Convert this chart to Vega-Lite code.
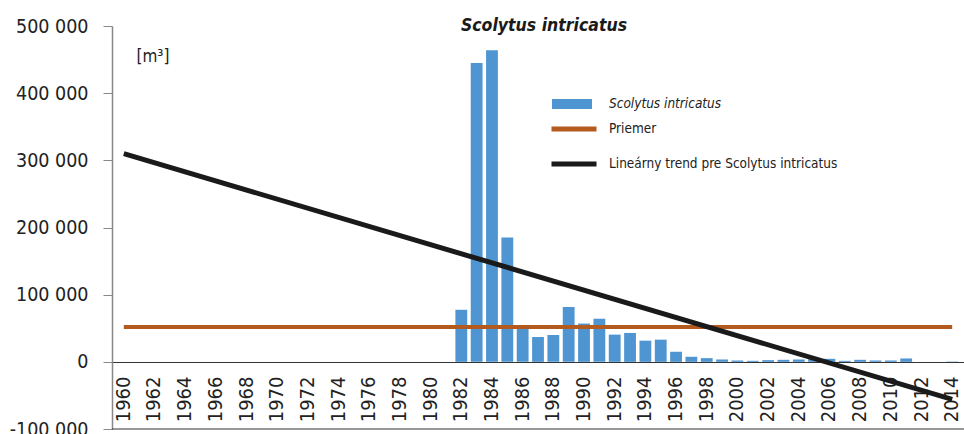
{
  "$schema": "https://vega.github.io/schema/vega-lite/v6.json",
  "width": 852,
  "height": 403,
  "autosize": {"type": "none"},
  "padding": {"left": 112, "top": 26, "right": 0, "bottom": 5},
  "background": "white",
  "config": {
    "view": {"stroke": null},
    "font": "DejaVu Sans Condensed, Liberation Sans, sans-serif",
    "locale": {"number": {"decimal": ",", "thousands": " ", "grouping": [3], "currency": ["", ""], "minus": "-"}}
  },
  "title": {
    "text": "Scolytus intricatus",
    "fontStyle": "italic",
    "fontWeight": "bold",
    "fontSize": 17.5,
    "anchor": "middle",
    "frame": "group",
    "offset": -18,
    "dx": 6,
    "color": "#1a1a1a"
  },
  "datasets": {
    "bars": [
      {"year": 1982, "value": 77500},
      {"year": 1983, "value": 445000},
      {"year": 1984, "value": 464000},
      {"year": 1985, "value": 185000},
      {"year": 1986, "value": 49000},
      {"year": 1987, "value": 37000},
      {"year": 1988, "value": 40000},
      {"year": 1989, "value": 81500},
      {"year": 1990, "value": 57000},
      {"year": 1991, "value": 64000},
      {"year": 1992, "value": 40500},
      {"year": 1993, "value": 43000},
      {"year": 1994, "value": 31500},
      {"year": 1995, "value": 33000},
      {"year": 1996, "value": 15000},
      {"year": 1997, "value": 7500},
      {"year": 1998, "value": 5500},
      {"year": 1999, "value": 3500},
      {"year": 2000, "value": 2000},
      {"year": 2001, "value": 1500},
      {"year": 2002, "value": 2500},
      {"year": 2003, "value": 3000},
      {"year": 2004, "value": 3500},
      {"year": 2005, "value": 4000},
      {"year": 2006, "value": 4500},
      {"year": 2007, "value": 1500},
      {"year": 2008, "value": 3000},
      {"year": 2009, "value": 2000},
      {"year": 2010, "value": 2000},
      {"year": 2011, "value": 5000},
      {"year": 2012, "value": 0},
      {"year": 2013, "value": 0},
      {"year": 2014, "value": 500}
    ],
    "average": [
      {"year": 1960, "value": 52000},
      {"year": 2014, "value": 52000}
    ],
    "trend": [
      {"year": 1960, "value": 310000},
      {"year": 2014, "value": -56000}
    ],
    "bottom": [
      {"value": -100000}
    ]
  },
  "encoding": {
    "x": {
      "field": "year",
      "type": "ordinal",
      "scale": {
        "domain": [1960,1961,1962,1963,1964,1965,1966,1967,1968,1969,1970,1971,1972,1973,1974,1975,1976,1977,1978,1979,1980,1981,1982,1983,1984,1985,1986,1987,1988,1989,1990,1991,1992,1993,1994,1995,1996,1997,1998,1999,2000,2001,2002,2003,2004,2005,2006,2007,2008,2009,2010,2011,2012,2013,2014],
        "paddingInner": 0.23,
        "paddingOuter": 0.385
      },
      "axis": {
        "title": null,
        "values": [1960,1962,1964,1966,1968,1970,1972,1974,1976,1978,1980,1982,1984,1986,1988,1990,1992,1994,1996,1998,2000,2002,2004,2006,2008,2010,2012,2014],
        "labelAngle": 270,
        "ticks": false,
        "domainColor": "#333333",
        "domainWidth": 1.2,
        "labelFontSize": 20,
        "labelColor": "#222222",
        "labelPadding": 14,
        "offset": -67
      }
    },
    "y": {
      "field": "value",
      "type": "quantitative",
      "scale": {"domain": [-100000, 500000], "nice": false, "zero": false},
      "axis": {
        "title": "[m³]",
        "titleAngle": 0,
        "titleX": 24,
        "titleY": 30,
        "titleAlign": "left",
        "titleBaseline": "middle",
        "titleFontSize": 17,
        "titleFontWeight": "normal",
        "titleColor": "#222222",
        "values": [-100000, 0, 100000, 200000, 300000, 400000, 500000],
        "format": ",d",
        "labelFontSize": 19.5,
        "labelColor": "#222222",
        "labelPadding": 15,
        "tickSize": 9,
        "tickColor": "#888888",
        "domainColor": "#888888",
        "domainWidth": 1.5,
        "grid": false
      }
    }
  },
  "layer": [
    {
      "data": {"name": "bottom"},
      "mark": {"type": "rule", "color": "#333333", "strokeWidth": 1.2},
      "encoding": {"x": null, "y": {"field": "value", "type": "quantitative"}}
    },
    {
      "data": {"name": "bars"},
      "mark": {"type": "bar"},
      "encoding": {
        "fill": {
          "datum": "Scolytus intricatus",
          "type": "nominal",
          "scale": {"domain": ["Scolytus intricatus"], "range": ["#4f95d2"]},
          "legend": {
            "orient": "none",
            "legendX": 440,
            "legendY": 58,
            "title": null,
            "symbolType": "M-1,-0.25H1V0.25H-1Z",
            "symbolSize": 1600,
            "symbolStrokeWidth": 0,
            "labelFontStyle": "italic",
            "labelFontSize": 13.5,
            "labelColor": "#222222",
            "labelOffset": 17,
            "labelLimit": 400
          }
        }
      }
    },
    {
      "data": {"name": "average"},
      "mark": {"type": "line", "strokeWidth": 4},
      "encoding": {
        "stroke": {
          "datum": "Priemer",
          "type": "nominal",
          "scale": {"domain": ["Priemer", "Lineárny trend pre Scolytus intricatus"], "range": ["#b55a1e", "#1a1a1a"]},
          "legend": {
            "orient": "none",
            "legendX": 437,
            "legendY": 78,
            "title": null,
            "symbolType": "stroke",
            "symbolSize": 2025,
            "symbolStrokeWidth": 5,
            "labelFontSize": 13.5,
            "labelColor": "#222222",
            "labelOffset": 10,
            "labelLimit": 400,
            "rowPadding": -1
          }
        }
      }
    },
    {
      "data": {"name": "trend"},
      "mark": {"type": "line", "strokeWidth": 5},
      "encoding": {
        "stroke": {"datum": "Lineárny trend pre Scolytus intricatus", "type": "nominal"}
      }
    }
  ]
}
